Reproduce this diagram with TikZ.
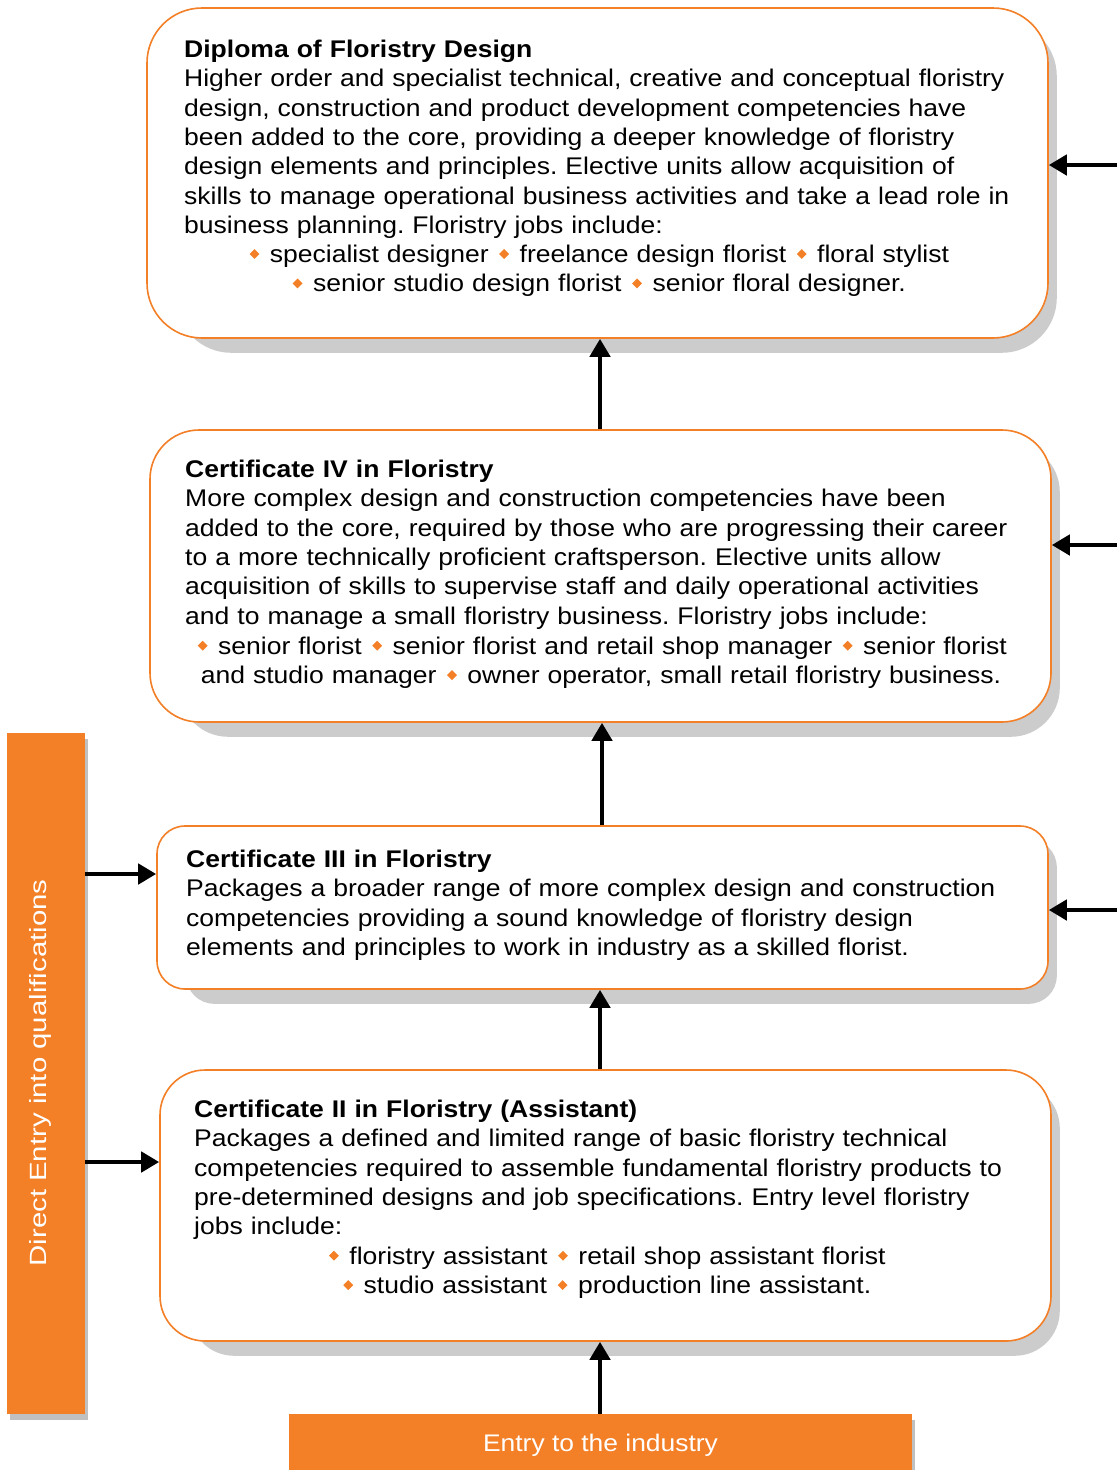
\documentclass[tikz,border=0pt]{standalone}
\usepackage{fontspec}
\setmainfont{Liberation Sans}[FakeStretch=1.10]
\newfontfamily\sidefont{Liberation Sans}[FakeStretch=1.25]
\usetikzlibrary{arrows.meta,calc,backgrounds}
\frenchspacing
\definecolor{accent}{HTML}{F37F27}
\definecolor{shadowgrey}{HTML}{CCCCCC}
\definecolor{barshadow}{HTML}{C0C0C0}
% small orange diamond used as a list separator
\newcommand{\dia}{\hspace{2.5pt}\raisebox{5.0pt}{\rotatebox[origin=c]{45}{\textcolor{accent}{\rule{7pt}{7pt}}}}\hspace{2.5pt}}
\tikzset{
  levelbox/.style={draw=accent, line width=1.6pt, fill=white, rectangle,
    rounded corners=#1, inner sep=0pt},
  body/.style={anchor=base west, inner sep=0pt, text width=880pt, align=left,
    font=\fontsize{24.1}{29.4}\selectfont},
  jobs/.style={anchor=base, inner sep=0pt, text width=880pt, align=center,
    font=\fontsize{24.1}{29.4}\selectfont},
  bar/.style={fill=accent, inner sep=0pt, text=white},
  arr/.style={line width=4.8pt, -{Triangle[length=18pt,width=20pt]}},
  dropshadow/.style={fill=shadowgrey, rounded corners=#1},
}
\begin{document}
\begin{tikzpicture}[x=1pt,y=-1pt]
\useasboundingbox (0,0) rectangle (1117,1470);

% qualification boxes
\node[levelbox=55pt, minimum width=901pt, minimum height=330pt] (dip) at (597.5,173) {};
\node[levelbox=49pt, minimum width=901pt, minimum height=292pt] (c4) at (600.5,576) {};
\node[levelbox=28pt, minimum width=891pt, minimum height=163pt] (c3) at (602.5,907.5) {};
\node[levelbox=45pt, minimum width=891pt, minimum height=271pt] (c2) at (605.5,1205.5) {};

% side and bottom bars
\node[bar, minimum width=78pt, minimum height=681pt] (side) at (46,1073.5) {};
\node[text=white, rotate=90, font=\fontsize{23.5}{28}\sidefont] (sidetxt) at (40,1073) {Direct Entry into qualifications};
\node[bar, minimum width=623pt, minimum height=56pt, text height=19pt, text depth=0pt,
  font=\fontsize{24}{28}\selectfont] (entry) at (600.5,1442) {Entry to the industry};

% drop shadows
\begin{pgfonlayer}{background}
  \fill[dropshadow=55pt] ($(dip.north west)+(30,14)$) rectangle ($(dip.south east)+(8,14)$);
  \fill[dropshadow=49pt] ($(c4.north west)+(30,14)$) rectangle ($(c4.south east)+(8,14)$);
  \fill[dropshadow=28pt] ($(c3.north west)+(30,14)$) rectangle ($(c3.south east)+(8,14)$);
  \fill[dropshadow=45pt] ($(c2.north west)+(30,14)$) rectangle ($(c2.south east)+(8,14)$);
  \fill[barshadow] ($(side.north west)+(3,6)$) rectangle ($(side.south east)+(3,6)$);
  \fill[barshadow] ($(entry.north west)+(3,6)$) rectangle ($(entry.south east)+(3,6)$);
\end{pgfonlayer}

% texts
\node[body] (diptxt) at (184,57.2) {\textbf{Diploma of Floristry Design}\\
Higher order and specialist technical, creative and conceptual floristry\\
design, construction and product development competencies have\\
been added to the core, providing a deeper knowledge of floristry\\
design elements and principles. Elective units allow acquisition of\\
skills to manage operational business activities and take a lead role in\\
business planning. Floristry jobs include:};
\node[jobs] (dipjobs) at (598,262.5) {\dia\ specialist designer \dia\ freelance design florist \dia\ floral stylist\\
\dia\ senior studio design florist \dia\ senior floral designer.};

\node[body] (c4txt) at (185,477.2) {\textbf{Certificate IV in Floristry}\\
More complex design and construction competencies have been\\
added to the core, required by those who are progressing their career\\
to a more technically proficient craftsperson. Elective units allow\\
acquisition of skills to supervise staff and daily operational activities\\
and to manage a small floristry business. Floristry jobs include:};
\node[jobs] (c4jobs) at (601,654.2) {\dia\ senior florist \dia\ senior florist and retail shop manager \dia\ senior florist\\
and studio manager \dia\ owner operator, small retail floristry business.};

\node[body] (c3txt) at (186,867.2) {\textbf{Certificate III in Floristry}\\
Packages a broader range of more complex design and construction\\
competencies providing a sound knowledge of floristry design\\
elements and principles to work in industry as a skilled florist.};

\node[body] (c2txt) at (194,1117.2) {\textbf{Certificate II in Floristry (Assistant)}\\
Packages a defined and limited range of basic floristry technical\\
competencies required to assemble fundamental floristry products to\\
pre-determined designs and job specifications. Entry level floristry\\
jobs include:};
\node[jobs] (c2jobs) at (606,1264.2) {\dia\ floristry assistant \dia\ retail shop assistant florist\\
\dia\ studio assistant \dia\ production line assistant.};

% progression arrows
\coordinate (ax1) at (600,0);
\coordinate (ax2) at (602,0);
\draw[arr] (c4.north -| ax1) -- (dip.south -| ax1);
\draw[arr] (c3.north -| ax2) -- (c4.south -| ax2);
\draw[arr] (c2.north -| ax1) -- (c3.south -| ax1);
\draw[arr] (entry.north -| ax1) -- (c2.south -| ax1);

% arrows coming in from the right
\coordinate (r1) at (1117,165);
\coordinate (r2) at (1117,545);
\coordinate (r3) at (1117,910);
\draw[arr] (r1) -- (r1 -| dip.east);
\draw[arr] (r2) -- (r2 -| c4.east);
\draw[arr] (r3) -- (r3 -| c3.east);

% direct entry arrows
\coordinate (l1) at (0,874);
\coordinate (l2) at (0,1162);
\draw[arr] (l1 -| side.east) -- (l1 -| c3.west);
\draw[arr] (l2 -| side.east) -- (l2 -| c2.west);
\end{tikzpicture}
\end{document}
